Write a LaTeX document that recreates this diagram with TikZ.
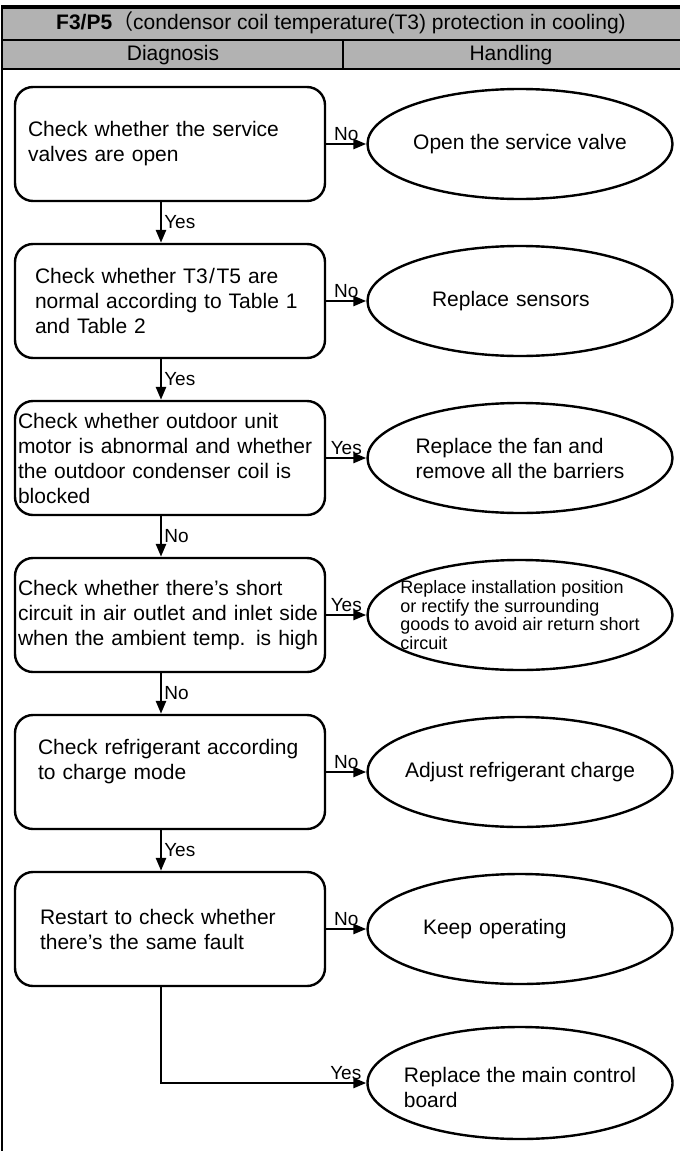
\documentclass[tikz,border=0pt]{standalone}
\usepackage{fontspec}
\setmainfont{Liberation Sans}
\newfontfamily\cjk{Noto Sans CJK SC}
\usetikzlibrary{arrows.meta,shapes.geometric}

\begin{document}
\begin{tikzpicture}[
  x=1pt, y=-1pt,
  font=\fontsize{21}{25}\selectfont,
  check/.style={draw, line width=2.4pt, rounded corners=18pt, align=left, minimum width=310pt, minimum height=114pt, fill=white},
  fix/.style={draw, ellipse, line width=2.4pt, minimum width=305pt, minimum height=110pt, inner xsep=-30pt, inner ysep=-10pt, align=left, fill=white},
  arrow/.style={-{Triangle[length=13pt,width=10pt]}, line width=2.6pt},
  tag/.style={font=\fontsize{19}{22}\selectfont, inner sep=2pt},
  head/.style={inner sep=0pt},
  rule/.style={line width=2.6pt}
]
\useasboundingbox (0,0) rectangle (680,1151);

\fill[black!30] (3,5) rectangle (680,69);
\draw[line width=4pt] (1,7) -- (680,7);
\draw[rule] (3,40) -- (680,40);
\draw[rule] (3,69) -- (680,69);
\draw[rule] (343,40) -- (343,69);
\draw[line width=2.4pt] (2,5) -- (2,1151);

\node[head] (title) at (341,23) {\textbf{F3/P5}{\cjk （}condensor coil temperature(T3) protection in cooling)};
\node[head] (diag) at (173,55) {Diagnosis};
\node[head] (hand) at (511,55) {Handling};

\node[check, inner xsep=13pt, text width=284pt] (chk1) at (170,144)
  {Check whether the service\\valves are open};
\node[check, inner xsep=20pt, text width=270pt] (chk2) at (170,301)
  {Check whether T3\kern1.5pt/\kern1.5pt T5 are\\normal according to Table 1\\and Table 2};
\node[check, inner xsep=3pt, text width=304pt] (chk3) at (170,458)
  {Check whether outdoor unit\\motor is abnormal and whether\\the outdoor condenser coil is\\blocked};
\node[check, inner xsep=3pt, text width=304pt] (chk4) at (170,615)
  {Check whether there's short\\circuit in air outlet and inlet side\\when the ambient temp. is high};
\node[check, inner xsep=23pt, text width=264pt] (chk5) at (170,772)
  {Check refrigerant according\\to charge mode\\\mbox{}};
\node[check, inner xsep=25pt, text width=260pt] (chk6) at (170,929)
  {Restart to check whether\\there’s the same fault};

\node[fix] (fix1) at (520,144) {Open the service valve};
\node[fix, text width=176pt] (fix2) at (520,301) {Replace sensors};
\node[fix] (fix3) at (520,458) {Replace the fan and\\remove all the barriers};
\node[fix, font=\fontsize{18}{18.5}\selectfont] (fix4) at (520,615)
  {Replace installation position\\or rectify the surrounding\\goods to avoid air return short\\circuit};
\node[fix] (fix5) at (520,772) {Adjust refrigerant charge};
\node[fix, text width=194pt] (fix6) at (520,929) {Keep operating};
\node[fix, minimum height=112pt] (fix7) at (520,1083) {\mbox{}\\Replace the main control\\board};

\draw[arrow] (chk1.east) -- node[tag, above] {No} (fix1.west);
\draw[arrow] (chk2.east) -- node[tag, above] {No} (fix2.west);
\draw[arrow] (chk3.east) -- node[tag, above] {Yes} (fix3.west);
\draw[arrow] (chk4.east) -- node[tag, above] {Yes} (fix4.west);
\draw[arrow] (chk5.east) -- node[tag, above] {No} (fix5.west);
\draw[arrow] (chk6.east) -- node[tag, above] {No} (fix6.west);

\draw[arrow] ([xshift=-9pt]chk1.south) -- node[tag, right] {Yes} ([xshift=-9pt]chk2.north);
\draw[arrow] ([xshift=-9pt]chk2.south) -- node[tag, right] {Yes} ([xshift=-9pt]chk3.north);
\draw[arrow] ([xshift=-9pt]chk3.south) -- node[tag, right] {No} ([xshift=-9pt]chk4.north);
\draw[arrow] ([xshift=-9pt]chk4.south) -- node[tag, right] {No} ([xshift=-9pt]chk5.north);
\draw[arrow] ([xshift=-9pt]chk5.south) -- node[tag, right] {Yes} ([xshift=-9pt]chk6.north);
\draw[arrow] ([xshift=-9pt]chk6.south) |- node[tag, above, pos=0.95] {Yes} (fix7.west);

\end{tikzpicture}
\end{document}
